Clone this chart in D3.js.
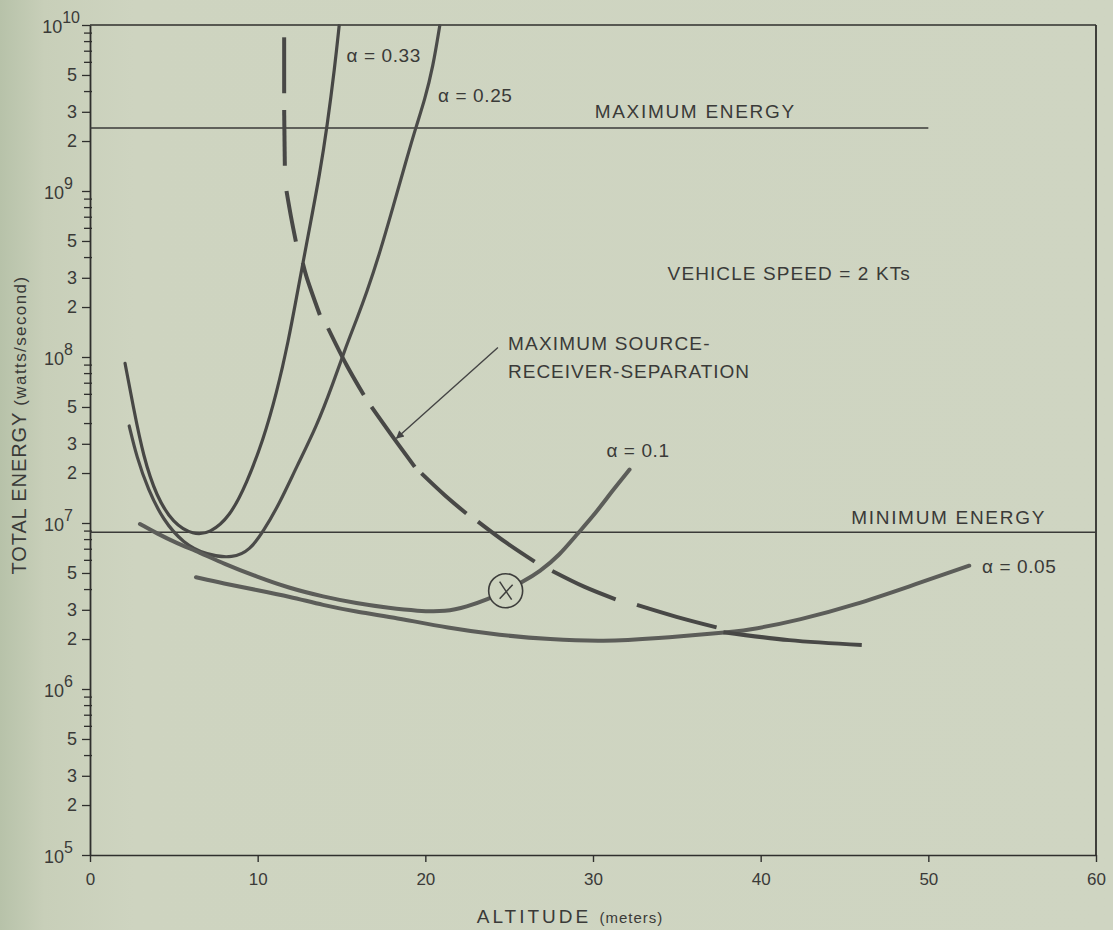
<!DOCTYPE html>
<html>
<head>
<meta charset="utf-8">
<script src="https://cdn.jsdelivr.net/npm/d3@7"></script>
<style>
  html, body { margin: 0; padding: 0; background: #ced4c0; }
  svg { display: block; }
  text { font-family: "Liberation Sans", Arial, sans-serif; fill: #3a3a38; }
</style>
</head>
<body>
<svg id="chart" width="1113" height="930"></svg>
<script>
// ---------- DATA (altitude in meters, total energy in watts/second) ----------
const xTickValues = [0, 10, 20, 30, 40, 50, 60];
const yDecades = [1e5, 1e6, 1e7, 1e8, 1e9, 1e10];
const yDecadeExponents = ["5", "6", "7", "8", "9", "10"];
const yLabeledMinor = [2, 3, 5];
const yMinorMultipliers = [2, 3, 4, 5, 6, 7, 8, 9];

const alpha033 = [
  [2.09, 9.16e7], [2.58, 5.02e7], [3.18, 2.51e7], [3.97, 1.44e7], [4.96, 9.95e6],
  [6.16, 8.47e6], [7.15, 8.67e6], [8.34, 1.09e7], [9.34, 1.73e7], [10.33, 3.16e7],
  [11.13, 6.04e7], [11.85, 1.27e8], [12.36, 2.42e8], [12.81, 4.21e8], [13.11, 6.1e8],
  [13.71, 1.28e9], [14.14, 2.44e9], [14.60, 5.6e9], [14.86, 9.9e9]
];
const alpha025 = [
  [2.34, 3.84e7], [2.78, 2.51e7], [3.47, 1.58e7], [4.37, 1.04e7], [5.56, 7.55e6],
  [6.95, 6.41e6], [8.54, 6.12e6], [9.54, 6.87e6], [10.33, 8.87e6], [11.32, 1.32e7],
  [12.32, 2.18e7], [13.51, 3.8e7], [14.50, 6.95e7], [15.30, 1.18e8], [15.89, 1.67e8],
  [16.49, 2.42e8], [17.28, 4.22e8], [18.08, 8.04e8], [18.87, 1.54e9], [19.43, 2.41e9],
  [19.96, 3.53e9], [20.46, 5.61e9], [20.86, 9.9e9]
];
const alpha010 = [
  [2.98, 9.86e6], [3.97, 8.67e6], [5.17, 7.56e6], [6.56, 6.63e6], [7.94, 5.71e6],
  [9.93, 4.75e6], [11.92, 4.04e6], [13.9, 3.6e6], [15.89, 3.28e6], [17.88, 3.07e6],
  [19.5, 2.95e6], [21.26, 2.92e6], [22.45, 3.13e6], [23.74, 3.47e6], [24.79, 3.91e6],
  [25.82, 4.43e6], [26.82, 5.09e6], [28.01, 6.41e6], [29.0, 8.47e6], [29.99, 1.09e7],
  [31.19, 1.58e7], [32.18, 2.1e7]
];
const alpha005 = [
  [6.32, 4.71e6], [7.94, 4.33e6], [9.93, 3.95e6], [11.92, 3.6e6], [13.9, 3.2e6],
  [15.89, 2.92e6], [17.88, 2.73e6], [21.45, 2.32e6], [24.43, 2.11e6], [27.41, 1.99e6],
  [30.63, 1.93e6], [33.83, 2.02e6], [37.47, 2.17e6], [39.18, 2.25e6], [42.39, 2.61e6],
  [45.6, 3.21e6], [48.81, 4.13e6], [52.44, 5.53e6]
];
// Maximum source-receiver separation (dashed curve), one array per dash
const msrDashes = [
  [[11.58, 8.43e9], [11.58, 3.88e9]],
  [[11.58, 3.08e9], [11.62, 1.42e9]],
  [[11.72, 1.0e9], [11.98, 7.07e8], [12.28, 4.95e8]],
  [[12.69, 3.68e8], [12.91, 3.05e8], [13.71, 1.79e8]],
  [[14.2, 1.49e8], [15.3, 8.95e7], [16.33, 5.9e7]],
  [[16.79, 5.0e7], [18.06, 3.3e7], [19.37, 2.18e7]],
  [[19.77, 1.99e7], [21.16, 1.47e7], [22.45, 1.14e7]],
  [[23.14, 1.02e7], [24.85, 7.58e6], [26.52, 5.85e6]],
  [[27.57, 5.14e6], [29.5, 4.12e6], [31.35, 3.47e6]],
  [[32.62, 3.21e6], [34.98, 2.72e6], [37.37, 2.35e6]],
  [[37.78, 2.2e6], [41.7, 1.97e6], [46.03, 1.84e6]]
];
const maxEnergy = { value: 2.4e9, xEnd: 50 };
const minEnergy = { value: 8.8e6, xEnd: 60 };
const optimumPoint = [24.79, 3.91e6];
const arrowFrom = [24.33, 1.14e8];
const arrowTo = [18.28, 3.24e7];

// ---------- CHART ----------
const svg = d3.select("#chart");
const W = 1113, H = 930;

const defs = svg.append("defs");
const bg = defs.append("linearGradient").attr("id", "bg").attr("x1", 0).attr("x2", 1).attr("y1", 0).attr("y2", 0);
bg.append("stop").attr("offset", "0%").attr("stop-color", "#b7c2a9");
bg.append("stop").attr("offset", "4%").attr("stop-color", "#c8cfb9");
bg.append("stop").attr("offset", "12%").attr("stop-color", "#ced4c0");
bg.append("stop").attr("offset", "100%").attr("stop-color", "#cfd5c2");
svg.append("rect").attr("width", W).attr("height", H).attr("fill", "url(#bg)");

defs.append("marker").attr("id", "arrowhead")
  .attr("viewBox", "0 0 10 10").attr("refX", 9).attr("refY", 5)
  .attr("markerWidth", 14).attr("markerHeight", 8).attr("markerUnits", "userSpaceOnUse")
  .attr("orient", "auto")
  .append("path").attr("d", "M0,0 L10,5 L0,10 Z").attr("fill", "#444");

const x = d3.scaleLinear().domain([0, 60]).range([90, 1096]);
const y = d3.scaleLog().domain([1e5, 1e10]).range([855, 25]);

const axisColor = "#2f2f2d";

// frame: top and right borders
svg.append("line").attr("x1", x(0)).attr("x2", x(60)).attr("y1", y(1e10)).attr("y2", y(1e10))
  .attr("stroke", axisColor).attr("stroke-width", 1.6);
svg.append("line").attr("x1", x(60)).attr("x2", x(60)).attr("y1", y(1e10)).attr("y2", y(1e5))
  .attr("stroke", axisColor).attr("stroke-width", 1.8);

// X axis
const xAxis = d3.axisBottom(x).tickValues(xTickValues).tickSize(7).tickSizeOuter(0).tickFormat(d3.format("d"));
const gx = svg.append("g").attr("transform", `translate(0,${y(1e5)})`).call(xAxis);
gx.select(".domain").attr("stroke", axisColor).attr("stroke-width", 1.6);
gx.selectAll(".tick line").attr("stroke", axisColor).attr("stroke-width", 1.4);
gx.selectAll(".tick text").attr("font-size", 17).attr("dy", "1.15em").attr("fill", "#3a3a38")
  .style("font-family", "'Liberation Sans Narrow', 'Liberation Sans', Arial, sans-serif");

// Y axis (log): minor ticks at 2..9 in each decade, labels at 2, 3, 5 and decades
const yTickValues = [];
yDecades.forEach(d => {
  yTickValues.push(d);
  if (d < 1e10) yMinorMultipliers.forEach(m => yTickValues.push(d * m));
});
const mantissa = d => Math.round(d / Math.pow(10, Math.floor(Math.log10(d) + 1e-9)));
const yAxis = d3.axisLeft(y).tickValues(yTickValues).tickSize(8).tickSizeOuter(0).tickFormat(() => "");
const gy = svg.append("g").attr("transform", `translate(${x(0)},0)`).call(yAxis);
gy.select(".domain").attr("stroke", axisColor).attr("stroke-width", 1.8);
gy.selectAll(".tick line").attr("stroke", axisColor).attr("stroke-width", 1.3)
  .attr("x2", d => (mantissa(d) === 1 || yLabeledMinor.includes(mantissa(d))) ? -8 : -6)
  .attr("x1", d => (mantissa(d) === 1 || yLabeledMinor.includes(mantissa(d))) ? 0 : 2);

// minor labels 2, 3, 5
yDecades.slice(0, -1).forEach(d => {
  yLabeledMinor.forEach(m => {
    svg.append("text").attr("x", 77).attr("y", y(d * m) + 6)
      .attr("text-anchor", "end").attr("font-size", 18).text(m);
  });
});
// decade labels 10^n
yDecades.forEach((d, i) => {
  const t = svg.append("text").attr("x", i === 5 ? 80 : 73).attr("y", y(d) + 8)
    .attr("text-anchor", "end").attr("font-size", 18);
  t.append("tspan").text("10");
  t.append("tspan").attr("dy", -10).attr("font-size", 16).text(yDecadeExponents[i]);
});

// axis titles
svg.append("text").attr("transform", `translate(26,${425}) rotate(-90)`)
  .attr("text-anchor", "middle").attr("font-size", 20).attr("letter-spacing", 0.9)
  .call(t => {
    t.append("tspan").text("TOTAL ENERGY ");
    t.append("tspan").attr("font-size", 17).attr("letter-spacing", 1.4).text("(watts/second)");
  });
svg.append("text").attr("x", 570).attr("y", 923)
  .attr("text-anchor", "middle").attr("font-size", 19).attr("letter-spacing", 3)
  .call(t => {
    t.append("tspan").text("ALTITUDE ");
    t.append("tspan").attr("font-size", 15).attr("letter-spacing", 1).text("(meters)");
  });

// energy limit lines
[maxEnergy, minEnergy].forEach(l => {
  svg.append("line").attr("x1", x(0)).attr("x2", x(l.xEnd))
    .attr("y1", y(l.value)).attr("y2", y(l.value))
    .attr("stroke", "#3a3a38").attr("stroke-width", 1.5);
});

// curves
const smooth = d3.line().x(d => x(d[0])).y(d => y(d[1])).curve(d3.curveBasis);
const dashLine = d3.line().x(d => x(d[0])).y(d => y(d[1])).curve(d3.curveCatmullRom.alpha(0.5));
const curves = [
  { data: alpha033, color: "#474745", w: 3.2 },
  { data: alpha025, color: "#4b4b49", w: 3.2 },
  { data: alpha010, color: "#5c5d59", w: 4 },
  { data: alpha005, color: "#5c5d59", w: 4 }
];
curves.forEach(c => {
  svg.append("path").attr("d", smooth(c.data)).attr("fill", "none")
    .attr("stroke", c.color).attr("stroke-width", c.w).attr("stroke-linecap", "round");
});
msrDashes.forEach(seg => {
  svg.append("path").attr("d", dashLine(seg)).attr("fill", "none")
    .attr("stroke", "#484846").attr("stroke-width", 4).attr("stroke-linecap", "butt");
});

// optimum point marker (circled X)
const cx = x(optimumPoint[0]), cy = y(optimumPoint[1]);
svg.append("circle").attr("cx", cx).attr("cy", cy).attr("r", 17)
  .attr("fill", "#ced4c0").attr("stroke", "#3e3e3c").attr("stroke-width", 1.6);
svg.append("line").attr("x1", cx - 6).attr("y1", cy - 9).attr("x2", cx + 6).attr("y2", cy + 9)
  .attr("stroke", "#3e3e3c").attr("stroke-width", 1.5);
svg.append("line").attr("x1", cx + 7).attr("y1", cy - 6).attr("x2", cx - 6).attr("y2", cy + 8)
  .attr("stroke", "#3e3e3c").attr("stroke-width", 1.5);

// arrow for max source-receiver separation
svg.append("line").attr("x1", x(arrowFrom[0])).attr("y1", y(arrowFrom[1]))
  .attr("x2", x(arrowTo[0])).attr("y2", y(arrowTo[1]))
  .attr("stroke", "#444").attr("stroke-width", 1.4).attr("marker-end", "url(#arrowhead)");

// annotations
const ann = (xv, yv, txt, size = 19, ls = 0.8) =>
  svg.append("text").attr("x", x(xv)).attr("y", y(yv))
    .attr("font-size", size).attr("letter-spacing", ls).text(txt);
ann(15.3, 6.0e9, "α = 0.33", 19, 0.6);
ann(20.76, 3.45e9, "α = 0.25", 19, 0.6);
ann(30.8, 2.51e7, "α = 0.1", 19, 0.6);
ann(53.2, 4.98e6, "α = 0.05", 19, 0.6);
ann(30.1, 2.75e9, "MAXIMUM ENERGY", 19, 1.7);
ann(45.4, 9.8e6, "MINIMUM ENERGY", 19, 1.7);
ann(34.45, 2.91e8, "VEHICLE SPEED = 2 KTs", 19, 1.1);
ann(24.93, 1.1e8, "MAXIMUM SOURCE-", 19, 1.2);
ann(24.93, 7.44e7, "RECEIVER-SEPARATION", 19, 1.0);
</script>
</body>
</html>
